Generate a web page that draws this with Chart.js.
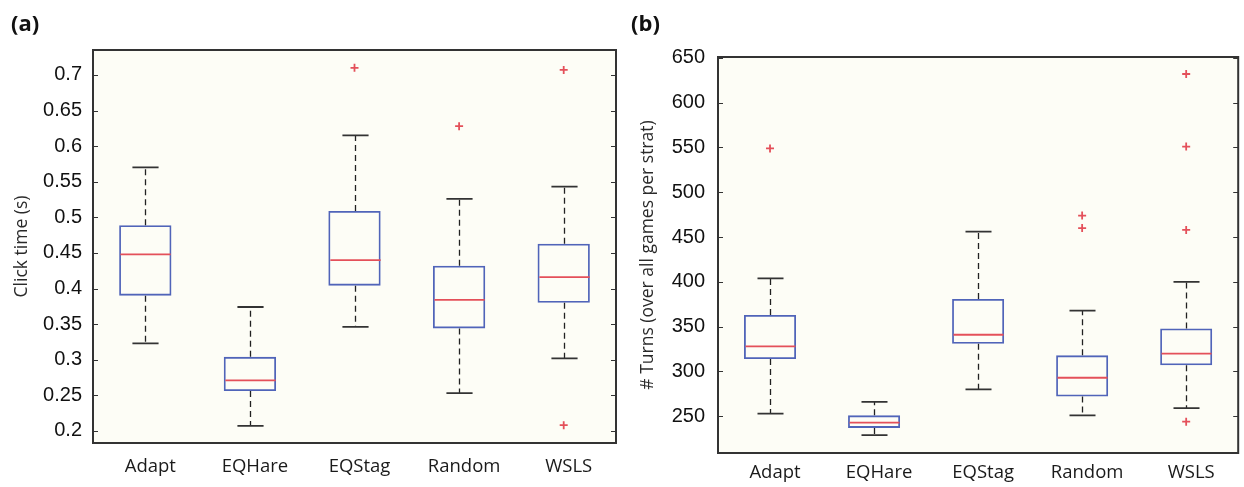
<!DOCTYPE html>
<html>
<head>
<meta charset="utf-8">
<script src="https://cdn.jsdelivr.net/npm/chart.js@4.4.1/dist/chart.umd.min.js"></script>
<style>
  html, body { margin: 0; padding: 0; background: #ffffff; }
  #wrap { position: relative; width: 1244px; height: 487px; overflow: hidden; }
  .panel { position: absolute; top: 0; width: 622px; height: 487px; }
  #pa { left: 0; }
  #pb { left: 622px; }
  .tag { position: absolute; top: 7px; font: bold 22px "Open Sans", sans-serif; color: #111; }
</style>
</head>
<body>
<div id="wrap">
  <div class="panel" id="pa"><canvas id="ca" width="622" height="487"></canvas></div>
  <div class="panel" id="pb"><canvas id="cb" width="622" height="487"></canvas></div>
  <div class="tag" style="left:11px">(a)</div>
  <div class="tag" style="left:631px">(b)</div>
</div>
<script>
// Strategy names along the x axis
const categories = ['Adapt', 'EQHare', 'EQStag', 'Random', 'WSLS'];

// Panel (a): click time in seconds
const clickMin    = [0.323, 0.207, 0.346, 0.253, 0.302];
const clickQ1     = [0.390, 0.256, 0.404, 0.344, 0.380];
const clickMedian = [0.448, 0.271, 0.440, 0.384, 0.416];
const clickQ3     = [0.489, 0.304, 0.509, 0.432, 0.463];
const clickMax    = [0.570, 0.374, 0.615, 0.526, 0.543];
const clickOutliers = [[], [], [0.710], [0.628], [0.707, 0.208]];
const clickTicks  = [0.2, 0.25, 0.3, 0.35, 0.4, 0.45, 0.5, 0.55, 0.6, 0.65, 0.7];
const clickTickLabels = ['0.2', '0.25', '0.3', '0.35', '0.4', '0.45', '0.5', '0.55', '0.6', '0.65', '0.7'];

// Panel (b): number of turns over all games per strategy
const turnsMin    = [253, 229, 280, 251, 259];
const turnsQ1     = [314, 237, 331, 272, 307];
const turnsMedian = [328, 243, 341, 293, 320];
const turnsQ3     = [363, 251, 381, 318, 348];
const turnsMax    = [404, 266, 456, 368, 400];
const turnsOutliers = [[549], [], [], [474, 460], [632, 551, 458, 244]];
const turnsTicks  = [250, 300, 350, 400, 450, 500, 550, 600, 650];
const turnsTickLabels = ['250', '300', '350', '400', '450', '500', '550', '600', '650'];

const BOX_BLUE = '#5064b9';
const MEDIAN_RED = '#e4505a';
const FRAME = '#333333';
const PLOT_BG = '#fdfdf6';

function whiskerPlugin(stats) {
  return {
    id: 'whiskers',
    beforeDatasetsDraw(chart) {
      const { ctx, chartArea: a } = chart;
      ctx.save();
      ctx.fillStyle = PLOT_BG;
      ctx.fillRect(a.left, a.top, a.right - a.left, a.bottom - a.top);
      ctx.restore();
    },
    afterDatasetsDraw(chart) {
      const { ctx, scales: { x, y } } = chart;
      const step = x.getPixelForValue(1) - x.getPixelForValue(0);
      ctx.save();
      stats.min.forEach((_, i) => {
        const cx = Math.round(x.getPixelForValue(i)) + 0.5;
        // dashed whiskers from box edges to the extremes
        ctx.strokeStyle = '#222';
        ctx.lineWidth = 1.3;
        ctx.setLineDash([6, 4]);
        ctx.beginPath();
        ctx.moveTo(cx, y.getPixelForValue(stats.q3[i]));
        ctx.lineTo(cx, y.getPixelForValue(stats.max[i]));
        ctx.moveTo(cx, y.getPixelForValue(stats.q1[i]));
        ctx.lineTo(cx, y.getPixelForValue(stats.min[i]));
        ctx.stroke();
        // whisker caps
        ctx.setLineDash([]);
        ctx.strokeStyle = '#333';
        ctx.lineWidth = 1.8;
        ctx.beginPath();
        [stats.max[i], stats.min[i]].forEach(v => {
          const py = y.getPixelForValue(v);
          ctx.moveTo(cx - step * 0.125, py);
          ctx.lineTo(cx + step * 0.125, py);
        });
        ctx.stroke();
        // median
        ctx.strokeStyle = MEDIAN_RED;
        ctx.lineWidth = 1.8;
        ctx.beginPath();
        const my = y.getPixelForValue(stats.median[i]);
        ctx.moveTo(cx - step * 0.25 + 1, my);
        ctx.lineTo(cx + step * 0.25 - 1, my);
        ctx.stroke();
      });
      ctx.restore();
    },
    afterDraw(chart) {
      const { ctx, chartArea: a, scales: { y } } = chart;
      ctx.save();
      // inward tick marks on both sides
      ctx.strokeStyle = FRAME;
      ctx.lineWidth = 1.2;
      ctx.beginPath();
      y.ticks.forEach(t => {
        const py = Math.round(y.getPixelForValue(t.value)) + 0.5;
        ctx.moveTo(a.left, py); ctx.lineTo(a.left + 5, py);
        ctx.moveTo(a.right, py); ctx.lineTo(a.right - 5, py);
      });
      ctx.stroke();
      // axes frame
      ctx.lineWidth = 2;
      ctx.strokeRect(a.left, a.top, a.right - a.left, a.bottom - a.top);
      ctx.restore();
    }
  };
}

function makePanel(canvasId, stats, opts) {
  const outlierPoints = [];
  stats.outliers.forEach((list, i) => list.forEach(v => outlierPoints.push({ x: categories[i], y: v })));
  return new Chart(document.getElementById(canvasId), {
    type: 'bar',
    data: {
      labels: categories,
      datasets: [
        {
          label: 'box',
          data: categories.map((_, i) => [stats.q1[i], stats.q3[i]]),
          backgroundColor: 'rgba(0,0,0,0)',
          borderColor: BOX_BLUE,
          borderWidth: 1.8,
          borderSkipped: false,
          barPercentage: 0.5,
          categoryPercentage: 1.0
        },
        {
          type: 'scatter',
          label: 'outliers',
          data: outlierPoints,
          pointStyle: 'cross',
          pointRadius: 4,
          pointBorderWidth: 1.8,
          borderColor: MEDIAN_RED,
          backgroundColor: MEDIAN_RED
        }
      ]
    },
    options: {
      responsive: false,
      animation: false,
      layout: { padding: opts.padding },
      plugins: { legend: { display: false }, tooltip: { enabled: false } },
      scales: {
        x: {
          type: 'category',
          offset: true,
          grid: { display: false, drawTicks: false },
          border: { display: false },
          ticks: {
            color: '#1a1a1a',
            font: { family: '"Open Sans", sans-serif', size: 18.5 },
            padding: opts.xPad,
            labelOffset: 5,
            maxRotation: 0
          },
          afterFit(s) { s.height = opts.xHeight; }
        },
        y: {
          type: 'linear',
          min: opts.min,
          max: opts.max,
          grid: { display: false, drawTicks: false },
          border: { display: false },
          afterBuildTicks(s) { s.ticks = stats.ticks.map(v => ({ value: v })); },
          ticks: {
            color: '#111',
            font: { family: '"Liberation Sans", Arial, sans-serif', size: 20 },
            padding: opts.yPad,
            callback: (v) => stats.tickLabels[stats.ticks.indexOf(v)]
          },
          title: {
            display: true,
            text: opts.title,
            color: '#2a2a2a',
            font: { family: '"Open Sans", sans-serif', size: 17.5 },
            padding: { top: opts.titlePad, bottom: 0 }
          },
          afterFit(s) { s.width = opts.yWidth; }
        }
      }
    },
    plugins: [whiskerPlugin(stats)]
  });
}

makePanel('ca', {
  min: clickMin, q1: clickQ1, median: clickMedian, q3: clickQ3, max: clickMax,
  outliers: clickOutliers, ticks: clickTicks, tickLabels: clickTickLabels
}, {
  padding: { left: 0, top: 50, right: 6, bottom: 0 },
  yWidth: 93, xHeight: 44, xPad: 13, yPad: 11, titlePad: 12,
  min: 0.183, max: 0.735, title: 'Click time (s)'
});

makePanel('cb', {
  min: turnsMin, q1: turnsQ1, median: turnsMedian, q3: turnsQ3, max: turnsMax,
  outliers: turnsOutliers, ticks: turnsTicks, tickLabels: turnsTickLabels
}, {
  padding: { left: 0, top: 57, right: 2, bottom: 0 },
  yWidth: 96, xHeight: 34, xPad: 9, yPad: 13, titlePad: 16,
  min: 209, max: 651, title: '# Turns (over all games per strat)'
});
</script>
</body>
</html>
